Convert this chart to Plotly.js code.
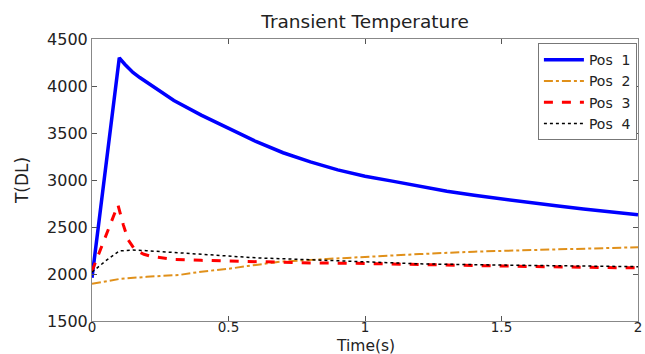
<!DOCTYPE html>
<html>
<head>
<meta charset="utf-8">
<script src="https://cdn.plot.ly/plotly-3.0.1.min.js"></script>
<style>html,body{margin:0;padding:0;background:#fff;}#chart{width:645px;height:354px;}</style>
</head>
<body>
<div id="chart"></div>
<script>
// Series names
const seriesNames = ["Pos\u00a0\u00a01", "Pos\u00a0\u00a02", "Pos\u00a0\u00a03", "Pos\u00a0\u00a04"];

// Pos 1
const t1 = [0, 0.1, 0.12, 0.15, 0.175, 0.2, 0.25, 0.3, 0.4, 0.5, 0.6, 0.7, 0.8, 0.9, 1.0, 1.1, 1.2, 1.3, 1.4, 1.5, 1.6, 1.7, 1.8, 1.9, 2.0];
const pos1 = [1960, 4300, 4232, 4145, 4090, 4040, 3935, 3845, 3690, 3545, 3410, 3290, 3192, 3108, 3040, 2988, 2932, 2880, 2837, 2797, 2760, 2725, 2692, 2660, 2630];

// Pos 2
const t2 = [0, 0.1, 0.2, 0.32, 0.4, 0.5, 0.57, 0.69, 0.86, 1.0, 1.2, 1.4, 1.6, 1.8, 2.0];
const pos2 = [1895, 1947, 1970, 1990, 2025, 2055, 2085, 2131, 2160, 2184, 2212, 2238, 2255, 2270, 2285];

// Pos 3
const t3 = [0, 0.095, 0.115, 0.133, 0.158, 0.19, 0.22, 0.3, 0.4, 0.6, 0.8, 1.0, 1.2, 1.5, 1.8, 2.0];
const pos3 = [2030, 2735, 2520, 2360, 2255, 2210, 2185, 2155, 2145, 2130, 2118, 2112, 2100, 2085, 2072, 2065];

// Pos 4
const t4 = [0, 0.05, 0.1, 0.15, 0.2, 0.3, 0.4, 0.5, 0.6, 0.76, 0.86, 1.0, 1.2, 1.5, 2.0];
const pos4 = [2020, 2140, 2245, 2255, 2248, 2230, 2205, 2188, 2172, 2156, 2145, 2125, 2108, 2095, 2078];

// Axis ticks and titles
const xTicks = [0, 0.5, 1, 1.5, 2];
const xTickLabels = ["0", "0.5", "1", "1.5", "2"];
const yTicks = [1500, 2000, 2500, 3000, 3500, 4000, 4500];
const yTickLabels = ["1500", "2000", "2500", "3000", "3500", "4000", "4500"];
const xTitle = "Time(s)";
const yTitle = "T(DL)";
const chartTitle = "Transient Temperature";

const FONT = "DejaVu Sans, Arial, sans-serif";

const traces = [
  {x: t1, y: pos1, name: seriesNames[0], mode: "lines", line: {color: "#0000FF", width: 3.5, dash: "solid"}},
  {x: t2, y: pos2, name: seriesNames[1], mode: "lines", line: {color: "#E0901A", width: 2, dash: "dashdot"}},
  {x: t3, y: pos3, name: seriesNames[2], mode: "lines", line: {color: "#FF0000", width: 3, dash: "dash"}},
  {x: t4, y: pos4, name: seriesNames[3], mode: "lines", line: {color: "#000000", width: 1.5, dash: "dot"}}
];

const layout = {
  width: 645, height: 354,
  margin: {l: 92, r: 7, t: 39, b: 33, pad: 0},
  paper_bgcolor: "#fff", plot_bgcolor: "#fff",
  font: {family: FONT, size: 16, color: "#222"},
  title: {text: chartTitle, font: {family: FONT, size: 18.5, color: "#222"}, x: 0.566, xanchor: "center", y: 0.94, yanchor: "middle"},
  xaxis: {
    range: [0, 2], tickvals: xTicks, ticktext: xTickLabels,
    ticks: "inside", ticklen: 5, tickcolor: "#555", tickwidth: 1,
    showline: true, linecolor: "#888", linewidth: 1, mirror: "ticks",
    showgrid: false, zeroline: false, ticklabelstandoff: -6,
    tickfont: {family: FONT, size: 13.5, color: "#222"}
  },
  yaxis: {
    range: [1500, 4500], tickvals: yTicks, ticktext: yTickLabels,
    ticks: "inside", ticklen: 5, tickcolor: "#555", tickwidth: 1,
    showline: true, linecolor: "#888", linewidth: 1, mirror: "ticks",
    showgrid: false, zeroline: false,
    tickfont: {family: FONT, size: 16, color: "#222"},
    title: {text: yTitle, font: {family: FONT, size: 17, color: "#222"}, standoff: 14}
  },
  annotations: [{
    text: xTitle, xref: "paper", yref: "paper", x: 0.5, y: -0.0532,
    xanchor: "center", yanchor: "top", showarrow: false, borderpad: 0,
    font: {family: FONT, size: 15.5, color: "#222"}
  }],
  legend: {
    x: 0.998, xanchor: "right", y: 0.985, yanchor: "top",
    bgcolor: "#fff", bordercolor: "#777", borderwidth: 1,
    font: {family: FONT, size: 14, color: "#222"},
    tracegroupgap: 0, itemwidth: 40
  },
  showlegend: true
};

Plotly.newPlot("chart", traces, layout, {displayModeBar: false, staticPlot: true});
</script>
</body>
</html>
